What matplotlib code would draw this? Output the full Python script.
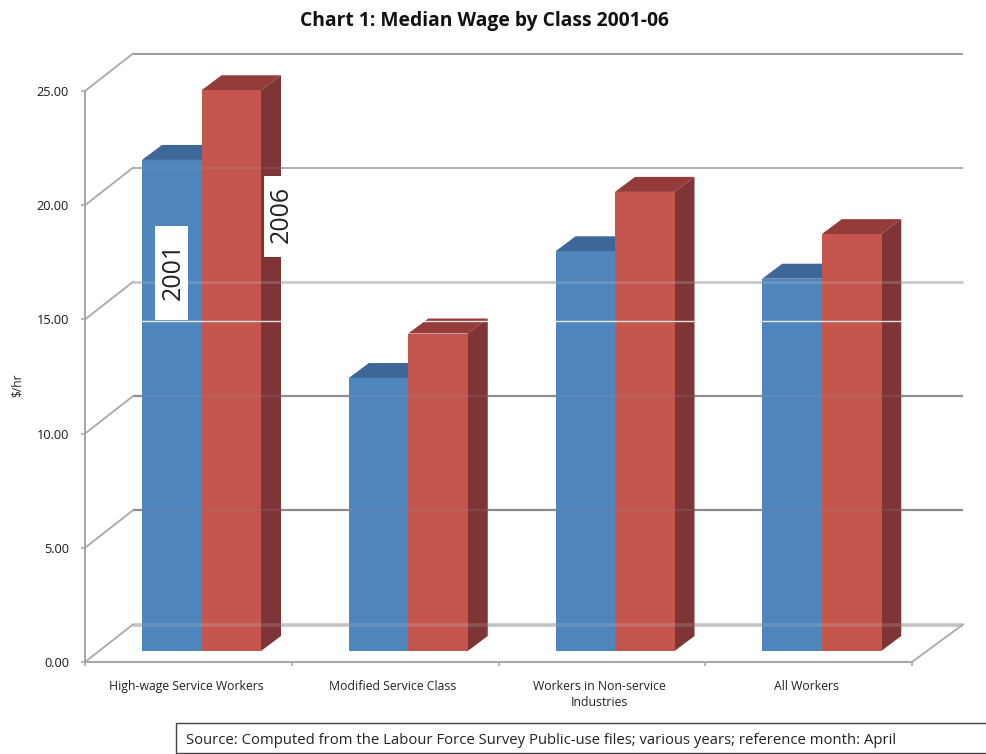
import matplotlib
matplotlib.use('Agg')
import matplotlib.pyplot as plt
from matplotlib.patches import Polygon

categories = ['High-wage Service Workers', 'Modified Service Class',
              'Workers in Non-service\nIndustries', 'All Workers']
wage2001 = [21.5, 11.95, 17.5, 16.3]
wage2006 = [24.55, 13.9, 20.1, 18.25]
yticks = [0, 5, 10, 15, 20, 25]
ylabels = ['0.00', '5.00', '10.00', '15.00', '20.00', '25.00']

plt.rcParams['font.family'] = ['Open Sans', 'DejaVu Sans']

W, H = 986, 754
L, R, T, B = 85, 912, 91, 662
fig = plt.figure(figsize=(W / 100, H / 100), dpi=100)
ax = fig.add_axes([L / W, 1 - B / H, (R - L) / W, (B - T) / H])
ax.set_xlim(0, 4)
ax.set_ylim(0, 25)

xpx = (R - L) / 4
ypx = (B - T) / 25
# depth of the box, and where the bars sit inside it
dx, dy = 48 / xpx, 37.5 / ypx
bx, by = 13.5 / xpx, 11 / ypx
sx, sy = 20 / xpx, 15 / ypx
bar_w = 59.5 / xpx
gap = (142 - L) / xpx - bx
grid_end = 4 + 51 / xpx


def poly(pts, color, z, alpha=None):
    ax.add_patch(Polygon(pts, closed=True, facecolor=color, edgecolor='none',
                         zorder=z, clip_on=False, alpha=alpha))


# back wall gridlines and the slanted floor/wall lines
grid_col = ['#c4c4c4', '#8a8a8a', '#8f8f8f', '#cccccc', '#a0a0a0', '#8c8c8c']
grid_lw = [2.6, 1.6, 1.6, 2.2, 1.2, 1.2]
for v, c, lw in zip(yticks, grid_col, grid_lw):
    ax.plot([dx, grid_end], [v + dy, v + dy], color=c, lw=lw, zorder=1,
            clip_on=False, solid_capstyle='butt')
    ax.plot([0, dx], [v, v + dy], color='#a8a8a8', lw=1.3, zorder=1, clip_on=False)
ax.plot([4, grid_end], [0, dy], color='#a8a8a8', lw=1.3, zorder=1, clip_on=False)

# bars, red after blue so its front covers the blue top
for i in range(4):
    for j, (vals, front, top, side) in enumerate([
            (wage2001, '#4f85bd', '#3d6799', '#33557f'),
            (wage2006, '#c5564e', '#953b39', '#7f3435')]):
        x0 = i + bx + gap + j * bar_w
        x1 = x0 + bar_w
        y0 = by
        y1 = vals[i] + by
        poly([(x0, y1), (x1, y1), (x1 + sx, y1 + sy), (x0 + sx, y1 + sy)], top, 3 + j)
        poly([(x1, y0), (x1 + sx, y0 + sy), (x1 + sx, y1 + sy), (x1, y1)], side, 3 + j)
        poly([(x0, y0), (x1, y0), (x1, y1), (x0, y1)], front, 3 + j)
    # gridlines show faintly through the bars
    x0 = i + bx + gap
    for v, c, lw in zip(yticks, grid_col, grid_lw):
        if v + dy < min(wage2001[i], wage2006[i]) + by:
            ax.plot([x0, x0 + 2 * bar_w + sx], [v + dy, v + dy], color=c, lw=lw,
                    alpha=0.22, zorder=6, solid_capstyle='butt')

for side in ['top', 'right']:
    ax.spines[side].set_visible(False)
for side in ['left', 'bottom']:
    ax.spines[side].set_color('#a8a8a8')
    ax.spines[side].set_linewidth(1.5)
ax.set_yticks(yticks)
ax.set_yticklabels(ylabels, fontsize=9.2, color='#1a1a1a')
ax.set_xticks([0, 1, 2, 3, 4])
ax.set_xticklabels([])
ax.tick_params(axis='y', color='#a8a8a8', length=3, width=1.2, pad=8.5)
ax.tick_params(axis='x', color='#a8a8a8', length=3, width=1.2)
for i, c in enumerate(categories):
    ax.text(i + 0.49, -0.78, c, ha='center', va='top', fontsize=8.8,
            color='#222222', linespacing=1.3)
fig.text(17 / W, 1 - 385 / H, '$/hr', rotation=90, ha='center', va='center',
         fontsize=8.6, color='#222222', parse_math=False)

fig.text(484.5 / W, 1 - 21 / H, 'Chart 1: Median Wage by Class 2001-06', ha='center',
         va='center', fontsize=13.9, fontweight='bold', color='#111111')

# series names pasted on as white boxes
fig.patches.append(plt.Rectangle((155 / W, 1 - 320 / H), 33 / W, 94 / H, fc='white',
                                 ec='none', transform=fig.transFigure, zorder=9))
fig.text(173 / W, 1 - 271 / H, '2001', rotation=90, ha='center', va='center', fontsize=18,
         color='#222222', zorder=10)
fig.patches.append(plt.Rectangle((264 / W, 1 - 257 / H), 40 / W, 81 / H, fc='white',
                                 ec='none', transform=fig.transFigure, zorder=9))
fig.text(281 / W, 1 - 214 / H, '2006', rotation=90, ha='center', va='center', fontsize=18,
         color='#222222', zorder=10)

# scan line running across the bars
fig.add_artist(plt.Line2D([142 / W, 904 / W], [1 - 321 / H, 1 - 321 / H], color='white',
                          lw=1, alpha=0.85, zorder=8))

fig.patches.append(plt.Rectangle((176 / W, 1 - 753 / H), 812 / W, 30 / H, fc='white',
                                 ec='#444444', lw=1, transform=fig.transFigure, zorder=9))
fig.text(186 / W, 1 - 741 / H,
         'Source: Computed from the Labour Force Survey Public-use files; various years; reference month: April',
         ha='left', va='center', fontsize=10.75, color='#222222', zorder=10)

fig.savefig('out.png', dpi=100)
